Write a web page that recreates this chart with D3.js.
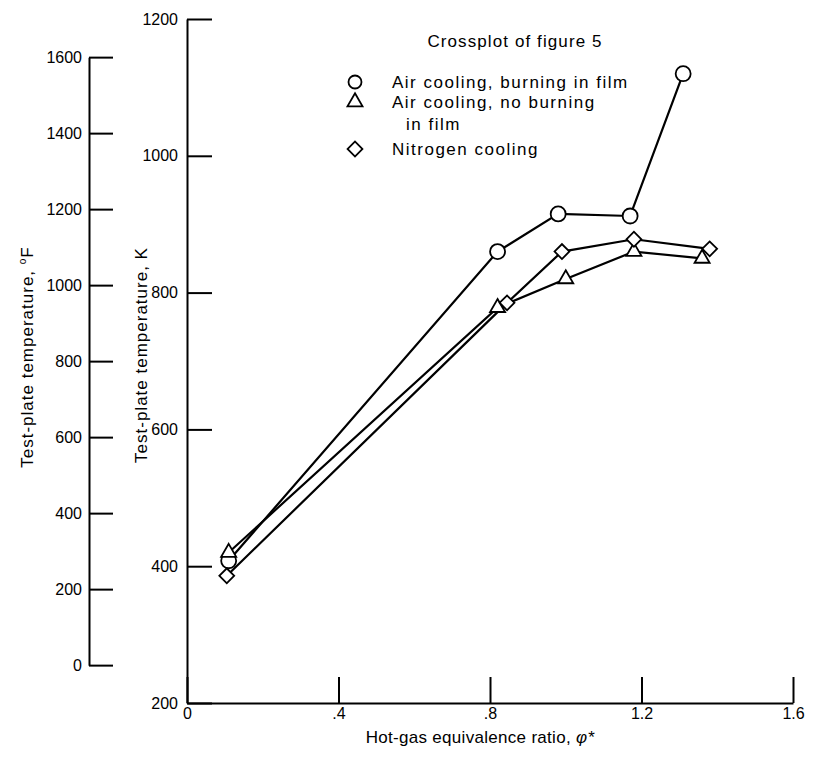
<!DOCTYPE html>
<html>
<head>
<meta charset="utf-8">
<script src="https://cdn.jsdelivr.net/npm/d3@7"></script>
<style>
body { margin: 0; background: #fff; }
svg { display: block; font-family: "Liberation Sans", Arial, sans-serif; }
</style>
</head>
<body>
<svg width="815" height="758"></svg>
<script>
"use strict"

// hot-gas equivalence ratio and plate temperature (K)
var air_burn_phi = [0.11, 0.82, 0.98, 1.17, 1.31];
var air_burn_K = [408, 860, 915, 912, 1120];
var air_noburn_phi = [0.11, 0.82, 1.0, 1.18, 1.36];
var air_noburn_K = [420, 778, 820, 860, 850];
var nitrogen_phi = [0.105, 0.845, 0.99, 1.18, 1.38];
var nitrogen_K = [386, 785, 860, 878, 864];

var x_ticks = [0, 0.4, 0.8, 1.2, 1.6];
var x_tick_labels = ["0", ".4", ".8", "1.2", "1.6"];
var k_ticks = [200, 400, 600, 800, 1000, 1200];
var f_ticks = [0, 200, 400, 600, 800, 1000, 1200, 1400, 1600];

var legend_labels = [
    ["Air cooling, burning in film"],
    ["Air cooling, no burning", "in film"],
    ["Nitrogen cooling"]
];
var series_shapes = ["circle", "triangle", "diamond"];

var f_to_k = function(f) { return (f - 32) * 5 / 9 + 273.15; };

var svg = d3.select("svg");

var x = d3.scaleLinear().domain([0, 1.6]).range([187, 793]);
var yK = d3.scaleLinear().domain([200, 1200]).range([703, 19]);
var yF = d3.scaleLinear().domain([0, 1600]).range([yK(f_to_k(0)), yK(f_to_k(1600))]);

var style_axis = function(g) {
    g.attr("font-family", null).attr("font-size", 16);
    g.select(".domain").attr("stroke", "#000").attr("stroke-width", 2);
    g.selectAll(".tick line").attr("stroke", "#000").attr("stroke-width", 2);
    g.selectAll(".tick text").attr("fill", "#000");
};

/* Fahrenheit scale on the far left */
svg.append("g")
    .attr("transform", "translate(89,0)")
    .call(d3.axisLeft(yF).tickValues(f_ticks).tickFormat(d3.format("d"))
        .tickSizeInner(-24).tickSizeOuter(0).tickPadding(7))
    .call(style_axis);

/* Kelvin scale */
svg.append("g")
    .attr("transform", "translate(" + x(0) + ",0)")
    .call(d3.axisLeft(yK).tickValues(k_ticks).tickFormat(d3.format("d"))
        .tickSizeInner(-25).tickSizeOuter(0).tickPadding(9))
    .call(style_axis);

svg.append("g")
    .attr("transform", "translate(0," + yK(200) + ")")
    .call(d3.axisBottom(x).tickValues(x_ticks)
        .tickFormat(function(d, i) { return x_tick_labels[i]; })
        .tickSizeInner(-26).tickSizeOuter(0).tickPadding(5))
    .call(style_axis);

/* axis titles */
var f_title = svg.append("text")
    .attr("transform", "translate(33,357) rotate(-90)")
    .attr("text-anchor", "middle")
    .attr("font-size", 17)
    .attr("letter-spacing", 1)
    .text("Test-plate temperature, ");
f_title.append("tspan").attr("font-size", 10).attr("dy", -7).text("o");
f_title.append("tspan").attr("dy", 7).text("F");

svg.append("text")
    .attr("transform", "translate(147,355) rotate(-90)")
    .attr("text-anchor", "middle")
    .attr("font-size", 17)
    .attr("letter-spacing", 1)
    .text("Test-plate temperature, K");

var x_title = svg.append("text")
    .attr("x", 480)
    .attr("y", 743)
    .attr("text-anchor", "middle")
    .attr("font-size", 17)
    .attr("letter-spacing", 0.3)
    .text("Hot-gas equivalence ratio, ");
x_title.append("tspan").attr("font-style", "italic").text("\u03c6*");

svg.append("text")
    .attr("x", 515)
    .attr("y", 47)
    .attr("text-anchor", "middle")
    .attr("font-size", 17)
    .attr("letter-spacing", 1.1)
    .text("Crossplot of figure 5");

/* markers */
var shape_path = {
    circle: d3.symbol().type(d3.symbolCircle).size(Math.PI * 7.5 * 7.5)(),
    triangle: d3.symbol().type(d3.symbolTriangle).size(98)(),
    diamond: d3.symbol().type(d3.symbolSquare).size(110)()
};
var shape_rotate = { circle: 0, triangle: 0, diamond: 45 };

var series = [
    { shape: "circle", pts: d3.zip(air_burn_phi, air_burn_K) },
    { shape: "triangle", pts: d3.zip(air_noburn_phi, air_noburn_K) },
    { shape: "diamond", pts: d3.zip(nitrogen_phi, nitrogen_K) }
];

var line = d3.line()
    .x(function(d) { return x(d[0]); })
    .y(function(d) { return yK(d[1]); });

var plot = svg.append("g");
series.forEach(function(s) {
    plot.append("path")
        .attr("d", line(s.pts))
        .attr("fill", "none")
        .attr("stroke", "#000")
        .attr("stroke-width", 2.2);
});
series.forEach(function(s) {
    plot.selectAll(null)
        .data(s.pts)
        .enter()
        .append("path")
        .attr("d", shape_path[s.shape])
        .attr("transform", function(d) {
            return "translate(" + x(d[0]) + "," + yK(d[1]) + ") rotate(" + shape_rotate[s.shape] + ")";
        })
        .attr("fill", "#fff")
        .attr("stroke", "#000")
        .attr("stroke-width", 1.8);
});

/* legend */
var legend_rows = [82, 102, 149];
var legend = svg.append("g");
legend_labels.forEach(function(lines, i) {
    var shape = series_shapes[i];
    legend.append("path")
        .attr("d", shape === "circle"
            ? d3.symbol().type(d3.symbolCircle).size(Math.PI * 6.5 * 6.5)()
            : shape_path[shape])
        .attr("transform", "translate(355," + legend_rows[i] + ") rotate(" + shape_rotate[shape] + ")")
        .attr("fill", "#fff")
        .attr("stroke", "#000")
        .attr("stroke-width", 1.8);
    lines.forEach(function(txt, j) {
        legend.append("text")
            .attr("x", j === 0 ? 392 : 406)
            .attr("y", legend_rows[i] + 6 + j * 22)
            .attr("font-size", 17)
            .attr("letter-spacing", 1.5)
            .text(txt);
    });
});
</script>
</body>
</html>
